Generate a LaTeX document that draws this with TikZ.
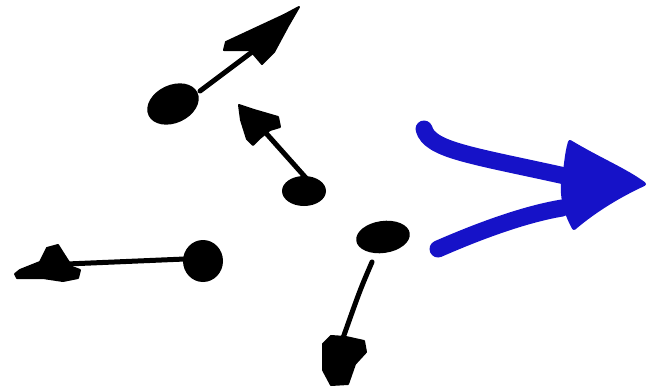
\documentclass[tikz,border=0pt]{standalone}
\begin{document}
\begin{tikzpicture}[x=1pt,y=-1pt,
  stem/.style={line width=5pt,line cap=round},
  blob/.style={fill=black},
  head/.style={fill=black,draw=black,line width=2pt,line join=round},
  bluestroke/.style={draw=bluearrow,line width=17pt,line cap=round},
  bluehead/.style={fill=bluearrow,draw=bluearrow,line width=4pt,line join=round}]
\definecolor{bluearrow}{RGB}{22,18,200}
\useasboundingbox[fill=white] (0,0) rectangle (655,391);
% vector 1
\coordinate (t1) at (200,91);
\coordinate (h1) at (252,52);
\draw[stem] (t1) -- (h1);
\fill[blob,rotate around={25:(173,104)}] (173,104) ellipse [x radius=27,y radius=19];
\filldraw[head] (299,7) -- (284,15) -- (226,42) -- (224,50) -- (250,50) -- (262,64) -- (274,52) -- (288,26) -- cycle;
% vector 2
\coordinate (t2) at (306,178);
\coordinate (h2) at (265,132);
\draw[stem] (t2) -- (h2);
\fill[blob] (304,191) ellipse [x radius=22,y radius=15];
\filldraw[head] (239,105) -- (254,110) -- (278,117) -- (280,127) -- (270,130) -- (260,138) -- (253,145) -- (247,139) -- (241,120) -- cycle;
% vector 3
\coordinate (t3) at (185,259);
\coordinate (h3) at (67,264);
\draw[stem] (t3) -- (h3);
\fill[blob] (203,261) ellipse [x radius=20,y radius=21];
\filldraw[head] (15,274) -- (20,270) -- (40,262) -- (47,248) -- (58,245) -- (63,253) -- (72,267) -- (80,270) -- (78,278) -- (63,281) -- (43,278) -- (17,278) -- cycle;
% vector 4
\coordinate (t4) at (372,262);
\coordinate (h4) at (343,338);
\draw[stem] (t4) .. controls (360,290) .. (h4);
\fill[blob,rotate around={8:(383,237)}] (383,237) ellipse [x radius=27,y radius=16];
\filldraw[head] (323,344) -- (331,336) -- (346,337) -- (364,341) -- (366,352) -- (355,364) -- (348,384) -- (331,385) -- (323,370) -- cycle;
% blue arrow
\draw[bluestroke] (424,129) .. controls (430,150) and (470,155) .. (565,176);
\draw[bluestroke] (438,249) .. controls (470,235) and (520,215) .. (562,208);
\filldraw[bluehead] (570,142) .. controls (600,160) and (625,170) .. (644,184)
  .. controls (620,195) and (595,210) .. (574,228)
  .. controls (564,210) and (562,195) .. (563,182)
  .. controls (566,170) and (566,155) .. cycle;
\end{tikzpicture}
\end{document}
